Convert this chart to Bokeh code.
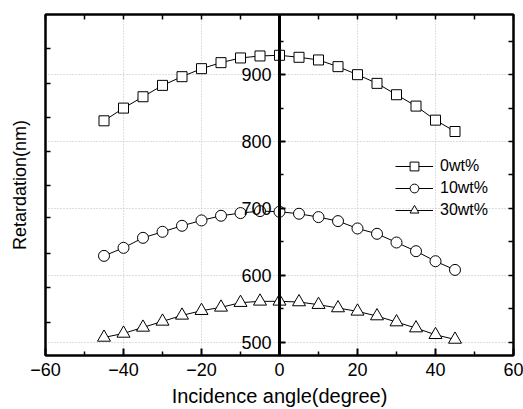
from bokeh.plotting import figure
from bokeh.models import LinearAxis, FixedTicker, Range1d, Legend, LegendItem
from bokeh.embed import file_html
from bokeh.resources import INLINE

# ---- data ----
angle = [-45, -40, -35, -30, -25, -20, -15, -10, -5, 0, 5, 10, 15, 20, 25, 30, 35, 40, 45]
wt0 = [831, 850, 867, 884, 897, 909, 918, 925, 928, 929, 926, 922, 912, 900, 887, 870, 853, 832, 815]
wt10 = [629, 641, 656, 665, 674, 682, 689, 693, 696, 695, 692, 687, 681, 670, 662, 649, 636, 621, 608]
wt30 = [507, 513, 522, 531, 540, 547, 552, 559, 561, 561, 560, 556, 551, 546, 539, 530, 521, 511, 504]
series_labels = ["0wt%", "10wt%", "30wt%"]

x_ticks = [-60, -40, -20, 0, 20, 40, 60]
x_minor = [-50, -30, -10, 10, 30, 50]
x_top = [-60, -50, -40, -30, -20, -10, 0, 10, 20, 30, 40, 50, 60]
y_ticks = [500, 600, 700, 800, 900]
y_minor = [550, 650, 750, 850, 950]
y_right = [500, 550, 600, 650, 700, 750, 800, 850, 900, 950]
y_left_border = [529, 581, 632, 686, 734, 785, 836, 887, 939]

FONT = "Liberation Sans"

p = figure(width=523, height=409,
           x_range=Range1d(-60, 60), y_range=Range1d(480, 990),
           output_backend="svg", toolbar_location=None,
           min_border_left=45, min_border_right=10, min_border_top=14, min_border_bottom=54)
p.background_fill_color = "white"
p.border_fill_color = "white"
p.outline_line_color = "black"
p.outline_line_width = 2

# grid
p.xgrid.ticker = FixedTicker(ticks=x_ticks)
p.ygrid.ticker = FixedTicker(ticks=y_ticks)
for g in (p.xgrid, p.ygrid):
    g.grid_line_color = "#bdbdbd"
    g.grid_line_dash = "1 2"
    g.grid_line_width = 1

# bottom axis
xa = p.xaxis[0]
xa.ticker = FixedTicker(ticks=x_ticks, minor_ticks=x_minor)
xa.axis_line_width = 2
xa.axis_line_color = "black"
xa.major_tick_in = 7
xa.major_tick_out = 0
xa.minor_tick_in = 4
xa.minor_tick_out = 0
xa.major_tick_line_width = 2
xa.minor_tick_line_width = 1.5
xa.major_tick_line_color = "black"
xa.minor_tick_line_color = "black"
xa.major_label_text_font = FONT
xa.major_label_text_font_size = "18px"
xa.major_label_text_color = "black"
xa.major_label_standoff = 7
xa.axis_label = "Incidence angle(degree)"
xa.axis_label_text_font = FONT
xa.axis_label_text_font_size = "20px"
xa.axis_label_text_font_style = "normal"
xa.axis_label_text_color = "black"
xa.axis_label_standoff = 6

# left border axis (ticks only, carries the title)
ya = p.yaxis[0]
ya.ticker = FixedTicker(ticks=[], minor_ticks=y_left_border)
ya.axis_line_width = 2
ya.axis_line_color = "black"
ya.major_tick_in = 0
ya.major_tick_out = 0
ya.minor_tick_in = 5
ya.minor_tick_out = 0
ya.minor_tick_line_width = 1.5
ya.minor_tick_line_color = "black"
ya.major_label_standoff = 0
ya.axis_label = "Retardation(nm)"
ya.axis_label_text_font = FONT
ya.axis_label_text_font_size = "18px"
ya.axis_label_text_font_style = "normal"
ya.axis_label_text_color = "black"
ya.axis_label_standoff = 16

# y axis drawn at x = 0
y0 = LinearAxis(fixed_location=0, ticker=FixedTicker(ticks=y_ticks, minor_ticks=y_minor))
y0.axis_line_width = 3
y0.axis_line_color = "black"
y0.major_tick_in = 6
y0.major_tick_out = 0
y0.minor_tick_in = 4
y0.minor_tick_out = 0
y0.major_tick_line_width = 2
y0.minor_tick_line_width = 1.5
y0.major_tick_line_color = "black"
y0.minor_tick_line_color = "black"
y0.major_label_text_font = FONT
y0.major_label_text_font_size = "18px"
y0.major_label_text_color = "black"
y0.major_label_standoff = 8
p.add_layout(y0, "left")

# top and right frame axes (ticks only)
top = LinearAxis(ticker=FixedTicker(ticks=[], minor_ticks=x_top))
right = LinearAxis(ticker=FixedTicker(ticks=[], minor_ticks=y_right))
for ax in (top, right):
    ax.axis_line_width = 2
    ax.axis_line_color = "black"
    ax.major_tick_in = 0
    ax.major_tick_out = 0
    ax.minor_tick_in = 5
    ax.minor_tick_out = 0
    ax.minor_tick_line_width = 1.5
    ax.minor_tick_line_color = "black"
    ax.major_label_standoff = 0
p.add_layout(top, "above")
p.add_layout(right, "right")

# series
items = []
for ys, marker, size, lab in ((wt0, "square", 10, series_labels[0]),
                              (wt10, "circle", 11, series_labels[1]),
                              (wt30, "triangle", 13, series_labels[2])):
    l = p.line(angle, ys, line_color="black", line_width=1)
    s = p.scatter(angle, ys, marker=marker, size=size, fill_color="white",
                  line_color="black", line_width=1)
    items.append(LegendItem(label=lab, renderers=[l, s]))

legend = Legend(items=items, location=(350, 134))
legend.padding = 0
legend.margin = 0
legend.spacing = 0
legend.label_height = 22
legend.glyph_height = 22
legend.glyph_width = 38
legend.label_standoff = 7
legend.border_line_color = None
legend.background_fill_alpha = 0
legend.label_text_font = FONT
legend.label_text_font_size = "16px"
legend.label_text_color = "black"
p.add_layout(legend, "center")

open("out.html", "w").write(file_html(p, INLINE))
